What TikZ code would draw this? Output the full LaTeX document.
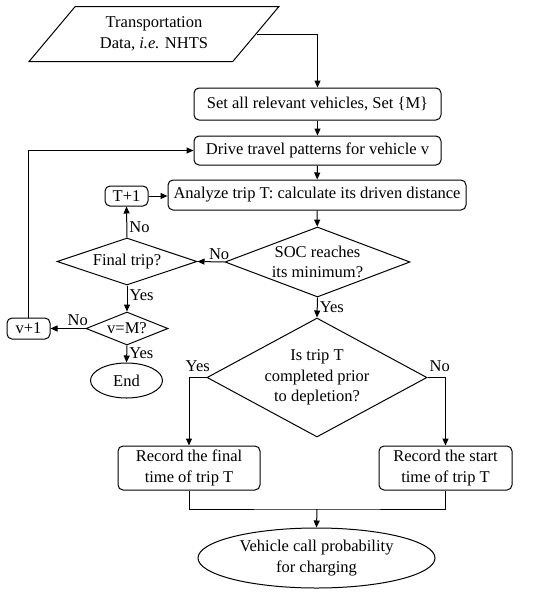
\documentclass[tikz,border=0pt]{standalone}
\usepackage{fontspec}
\setmainfont{Liberation Serif}
\usetikzlibrary{shapes.geometric,arrows.meta}

\tikzset{
  box/.style={draw, rounded corners=5pt, inner sep=2pt, align=center},
  decide/.style={draw, diamond, inner sep=0pt, align=center},
  term/.style={draw, ellipse, inner sep=0pt, align=center},
  arr/.style={-{Triangle[length=7pt,width=6pt]}},
  lbl/.style={inner sep=2pt}
}

\begin{document}
\begin{tikzpicture}[x=1pt, y=-1pt, line width=1pt, font=\fontsize{16.5}{20.5}\selectfont]
  \useasboundingbox (0,0) rectangle (550,595);

  % input data
  \node[draw, trapezium, trapezium left angle=47, trapezium right angle=133,
        trapezium stretches=true, minimum width=250pt, minimum height=55pt,
        inner sep=0pt, align=center] (data) at (154,34) {Transportation\\Data, \textit{i.e.} NHTS};

  % main column
  \node[box, minimum width=247pt, minimum height=32pt] (setm) at (317.5,104) {Set all relevant vehicles, Set \{M\}};
  \node[box, minimum width=247pt, minimum height=29pt] (drive) at (317.5,150.5) {Drive travel patterns for vehicle v};
  \node[box, minimum width=298pt, minimum height=30pt] (trip) at (317,195) {Analyze trip T: calculate its driven distance};
  \node[decide, aspect=2.64, minimum width=185pt, minimum height=70pt] (soc) at (317.5,262) {SOC reaches\\its minimum?};
  \node[decide, aspect=1.85, minimum width=220pt, minimum height=119pt] (dep) at (317,377.5) {Is trip T\\completed prior\\to depletion?};
  \node[box, minimum width=142pt, minimum height=44pt] (rec1) at (189,468) {Record the final\\time of trip T};
  \node[box, minimum width=133pt, minimum height=44pt] (rec2) at (445.5,468) {Record the start\\time of trip T};
  \node[term, minimum width=237pt, minimum height=60pt] (callp) at (316.5,558) {Vehicle call probability\\for charging};
  \coordinate (join) at (317,509);

  % loop column
  \node[box, minimum width=43pt, minimum height=20pt, inner sep=1pt] (tplus) at (126.5,196) {T+1};
  \node[decide, aspect=2.98, minimum width=140pt, minimum height=47pt] (final) at (127,261.5) {Final trip?};
  \node[decide, aspect=2.48, minimum width=82pt, minimum height=33pt] (vm) at (127,328.5) {v=M?};
  \node[box, minimum width=43pt, minimum height=21pt, inner sep=1pt] (vplus) at (28.5,328.5) {v+1};
  \node[term, minimum width=72pt, minimum height=35pt] (endn) at (126.5,380.5) {End};

  \draw[arr] (data.east) -| (setm.north);
  \draw[arr] (setm) -- (drive);
  \draw[arr] (drive) -- (trip);
  \draw[arr] (trip) -- (soc);
  \draw[arr] (soc.west) -- (final.east) node[lbl, pos=0.2, above] {No};
  \draw[arr] (final.north) -- (tplus.south) node[lbl, pos=0.32, right] {No};
  \draw[arr] (tplus.east) -- (tplus.east -| trip.west);
  \draw[arr] (final.south) -- (vm.north) node[lbl, pos=0.37, right] {Yes};
  \draw[arr] (vm.west) -- (vplus.east) node[lbl, pos=0.22, above] {No};
  \draw[arr] (vplus.north) |- (drive.west);
  \draw[arr] (vm.south) -- (endn.north) node[lbl, pos=0.45, right] {Yes};
  \draw[arr] (soc.south) -- (dep.north) node[lbl, pos=0.5, right] {Yes};
  \draw[arr] (dep.west) -| (rec1.north) node[lbl, pos=0.25, above=3pt] {Yes};
  \draw[arr] (dep.east) -| (rec2.north) node[lbl, pos=0.34, above=3pt] {No};
  \draw (rec1.south) |- (join) -| (rec2.south);
  \draw[arr] (join) -- (callp.north);
\end{tikzpicture}
\end{document}
